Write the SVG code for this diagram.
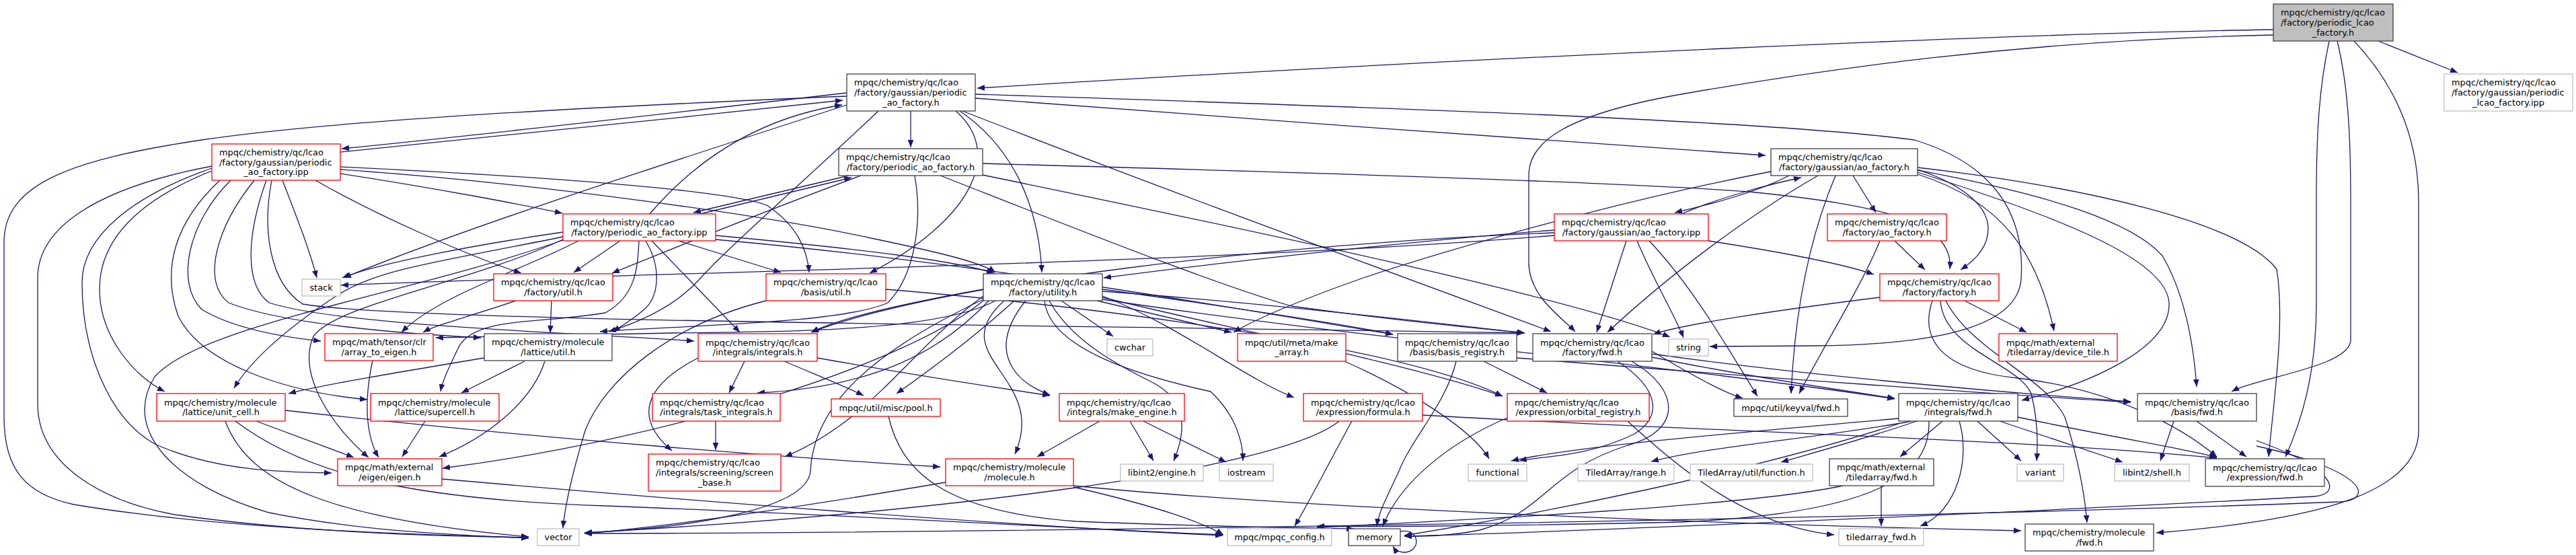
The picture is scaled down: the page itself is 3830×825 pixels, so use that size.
<svg xmlns="http://www.w3.org/2000/svg" width="3830" height="825" viewBox="0 0 3830 825">
<style>
rect{stroke-width:1.3}
.r rect{fill:#fff;stroke:#ff0000}
.b rect{fill:#fff;stroke:#404040}
.g rect{fill:#fff;stroke:#bfbfbf}
.root rect{fill:#bfbfbf;stroke:#404040}
text{font-family:"DejaVu Sans","Liberation Sans",sans-serif;font-size:12.9px;fill:#000}
.c{text-anchor:middle}
#edges path{fill:none;stroke:#191970;stroke-width:1.3;marker-end:url(#a)}
</style>
<defs>
<marker id="a" viewBox="0 0 10 8" refX="10" refY="4" markerWidth="11" markerHeight="8.8" markerUnits="userSpaceOnUse" orient="auto"><path d="M0,0L10,4L0,8z" fill="#191970"/></marker>
</defs>
<rect width="3830" height="825" fill="#fff"/>
<g id="edges">
<path d="M3380,44 C3000,50 2200,85 1453,131"/>
<path d="M3380,52 C3000,60 2700,105 2500,140 C2330,170 2273,210 2273,260 L2273,390 C2273,440 2320,470 2342,493"/>
<path d="M3463,61 C3448,130 3444,200 3444,290 L3444,450 C3444,560 3420,630 3398,679"/>
<path d="M3475,61 C3492,130 3495,210 3495,300 L3495,505 C3495,545 3360,560 3318,582"/>
<path d="M3500,61 C3565,130 3596,210 3596,300 L3596,640 C3596,740 3420,775 3206,792"/>
<path d="M3536,61 L3654,108"/>
<path d="M1354,165 L1354,219"/>
<path d="M1450,146 C1750,168 2300,210 2625,231"/>
<path d="M1450,140 C2000,158 2620,178 2846,208 C2985,250 3010,340 3005,415 C3000,480 2900,512 2700,514 C2620,515 2570,515 2542,515"/>
<path d="M1259,138 C1000,168 720,200 508,221"/>
<path d="M506,226 C720,205 1000,176 1253,149"/>
<path d="M1259,143 C900,158 500,178 300,208 C100,238 6,275 6,360 L6,620 C6,700 40,735 110,750 C320,785 600,795 786,799"/>
<path d="M1259,156 C1000,240 700,335 511,413"/>
<path d="M1306,165 C1200,265 1080,370 1040,415 C1000,460 940,482 905,493"/>
<path d="M1421,165 C1495,230 1440,330 1293,406"/>
<path d="M1427,165 C1515,225 1545,320 1549,405"/>
<path d="M1431,165 C1700,270 2000,380 2306,493"/>
<path d="M1262,261 L1031,316"/>
<path d="M1041,318 L1266,264"/>
<path d="M1280,261 C1120,320 1000,370 910,406"/>
<path d="M1360,261 C1372,330 1360,410 1320,450 C1250,482 1000,484 892,493"/>
<path d="M1461,243 C1900,255 2400,270 2600,285 C2800,305 2905,330 2899,400"/>
<path d="M1461,260 C1700,310 2300,430 2483,501"/>
<path d="M1398,261 C1600,340 1800,420 1920,455 C2100,480 2200,488 2267,495"/>
<path d="M506,258 C650,280 780,305 836,317"/>
<path d="M506,248 C800,262 1080,282 1140,305 C1185,335 1200,370 1203,405"/>
<path d="M506,252 C800,272 1150,322 1300,355 C1400,376 1458,390 1480,405"/>
<path d="M469,268 C560,320 700,382 775,406"/>
<path d="M420,268 C440,320 460,370 471,413"/>
<path d="M315,247 C140,280 56,340 56,413 L56,600 C56,690 150,745 260,765 C450,792 650,797 786,799"/>
<path d="M315,250 C200,290 122,350 122,420 C122,520 160,620 230,660 C320,700 420,702 493,703"/>
<path d="M315,254 C200,300 148,360 148,430 C148,500 200,560 245,582"/>
<path d="M327,268 C260,330 240,400 265,470 C300,540 420,582 546,594"/>
<path d="M343,268 C280,330 260,420 300,460 C350,490 430,502 477,507"/>
<path d="M378,268 C320,340 300,420 340,450 C420,482 600,496 715,502"/>
<path d="M396,268 C370,340 360,420 400,450 C500,482 800,492 1032,507"/>
<path d="M404,268 C390,340 400,420 450,452 C600,478 1500,482 2266,495"/>
<path d="M966,318 C1050,220 1150,172 1252,156"/>
<path d="M837,345 C700,365 560,392 509,413"/>
<path d="M922,358 L853,405"/>
<path d="M1009,358 L1161,405"/>
<path d="M950,358 C948,400 945,440 900,465 C800,482 700,470 680,520 C665,552 658,566 655,582"/>
<path d="M960,358 C985,400 978,440 960,458 C940,476 922,486 911,493"/>
<path d="M969,358 L1100,494"/>
<path d="M860,358 C780,400 650,440 597,494"/>
<path d="M837,352 C650,390 560,400 500,440 C420,492 370,540 348,577"/>
<path d="M837,356 C700,420 500,452 466,500 C440,560 500,640 548,680"/>
<path d="M837,357 C600,440 300,482 230,560 C180,640 260,722 400,762 C550,792 700,796 786,800"/>
<path d="M1064,350 C1300,372 1420,388 1478,406"/>
<path d="M1064,356 C1500,395 1900,470 2071,497"/>
<path d="M2500,318 C2560,292 2640,272 2678,264"/>
<path d="M2660,261 C2620,282 2560,300 2490,316"/>
<path d="M2311,342 C2100,358 1800,392 1641,413"/>
<path d="M2311,346 C1900,362 1400,420 1206,494"/>
<path d="M2311,350 C1800,392 1000,404 507,424"/>
<path d="M2418,358 L2374,494"/>
<path d="M2434,358 C2460,420 2490,468 2503,502"/>
<path d="M2452,358 C2520,430 2570,520 2613,589"/>
<path d="M2540,358 C2650,375 2740,392 2786,408"/>
<path d="M2755,261 L2789,316"/>
<path d="M2851,252 C2905,270 2956,300 2956,340 C2956,370 2932,390 2915,401"/>
<path d="M2633,255 C2400,300 2150,372 2030,412 C1950,440 1870,472 1834,494"/>
<path d="M2703,261 C2600,320 2480,410 2390,494"/>
<path d="M2729,261 C2700,330 2670,430 2663,585"/>
<path d="M2851,249 C3100,278 3330,330 3385,400 C3398,480 3380,600 3373,679"/>
<path d="M2851,253 C3050,290 3170,330 3215,380 C3250,440 3262,520 3266,575"/>
<path d="M2851,256 C3050,320 3220,382 3225,450 C3228,520 3100,572 3006,595"/>
<path d="M2851,259 C2980,300 3030,380 3054,492"/>
<path d="M2817,358 L2862,401"/>
<path d="M2795,358 C2770,420 2720,500 2675,585"/>
<path d="M2795,442 C2650,460 2500,482 2458,497"/>
<path d="M2921,447 L3013,494"/>
<path d="M2885,447 C2890,520 3000,540 3020,585 C3030,625 3030,660 3028,685"/>
<path d="M2893,447 C2930,520 3040,560 3070,620 C3090,680 3100,740 3103,777"/>
<path d="M2873,447 C2855,500 2880,550 3000,562 C3150,580 3250,640 3296,679"/>
<path d="M2456,522 C2520,560 2560,582 2591,592"/>
<path d="M2456,526 C2700,560 3000,585 3168,597"/>
<path d="M2456,531 C2600,560 2750,582 2817,592"/>
<path d="M2405,537 C2470,580 2470,620 2430,645 C2360,680 2290,678 2259,685"/>
<path d="M2426,537 C2500,580 2500,640 2420,662 C2300,700 2300,760 2200,788 C2150,798 2110,797 2088,797"/>
<path d="M2206,537 L2300,584"/>
<path d="M2165,537 C2150,600 2100,650 2080,700 C2062,740 2050,760 2047,782"/>
<path d="M2255,532 C2600,560 3000,588 3168,598"/>
<path d="M2241,621 C2150,660 2080,720 2056,782"/>
<path d="M2420,626 C2500,700 2600,782 2727,795"/>
<path d="M2010,626 C1980,680 1950,740 1925,782"/>
<path d="M2115,617 C2500,640 3000,652 3296,681"/>
<path d="M1991,626 C1900,700 1400,762 869,792"/>
<path d="M1578,447 L1655,500"/>
<path d="M1631,447 L1831,494"/>
<path d="M1508,447 C1450,500 1380,552 1333,585"/>
<path d="M1525,447 C1470,515 1500,565 1561,587"/>
<path d="M1493,447 C1400,530 1560,560 1509,675"/>
<path d="M1560,447 C1600,520 1700,560 1720,572 C1770,602 1760,650 1745,685"/>
<path d="M1553,447 C1560,520 1700,560 1800,582 C1840,620 1848,660 1848,685"/>
<path d="M1639,430 C1800,452 2000,482 2071,497"/>
<path d="M1639,433 C1900,452 2150,482 2267,495"/>
<path d="M1480,447 C1400,490 1200,493 1000,495 L648,502"/>
<path d="M1470,447 C1400,522 1300,576 1126,584"/>
<path d="M1639,440 C1750,482 1850,562 1924,591"/>
<path d="M1462,430 C1350,450 1250,472 1206,494"/>
<path d="M1462,440 C1350,522 1300,622 1167,679"/>
<path d="M1462,445 C1300,522 1210,600 1205,700 C1200,762 1000,786 869,792"/>
<path d="M1639,442 C1800,482 2100,542 2234,589"/>
<path d="M1639,445 C2000,500 2500,545 2817,593"/>
<path d="M1462,447 C1350,540 1000,652 658,696"/>
<path d="M1107,537 L1084,584"/>
<path d="M1038,532 C960,572 940,620 999,670"/>
<path d="M1166,537 C1220,560 1260,576 1284,588"/>
<path d="M1215,532 C1350,556 1480,576 1561,588"/>
<path d="M1064,626 L1064,669"/>
<path d="M1321,619 C1340,700 1400,760 1600,775 C1800,783 1950,785 2013,786"/>
<path d="M1635,626 L1542,679"/>
<path d="M1680,626 L1715,685"/>
<path d="M1700,626 L1823,687"/>
<path d="M1406,717 C1200,752 1000,782 869,793"/>
<path d="M1596,722 C2000,762 2700,782 3005,789"/>
<path d="M1596,724 C1700,748 1780,772 1819,795"/>
<path d="M657,712 C1000,742 1500,782 1818,796"/>
<path d="M554,536 C540,600 545,650 563,680"/>
<path d="M720,532 C600,552 480,572 429,585"/>
<path d="M780,537 L686,584"/>
<path d="M810,537 C790,600 720,652 653,679"/>
<path d="M820,447 L818,495"/>
<path d="M767,447 C700,470 650,482 629,494"/>
<path d="M381,626 L526,680"/>
<path d="M335,626 C370,722 500,772 786,798"/>
<path d="M424,610 C800,652 1200,682 1398,694"/>
<path d="M350,626 C450,702 600,742 900,752 C1300,767 1600,786 1818,795"/>
<path d="M632,626 L598,679"/>
<path d="M1139,447 C1000,482 900,562 870,640 C852,700 840,752 837,785"/>
<path d="M1317,430 C1700,462 2100,522 2234,589"/>
<path d="M2850,626 C2780,650 2700,672 2648,687"/>
<path d="M2888,626 L2825,679"/>
<path d="M2913,626 C2930,682 2910,760 2855,782"/>
<path d="M2940,626 L3005,685"/>
<path d="M2973,626 L3156,687"/>
<path d="M2843,626 C2700,652 2550,662 2455,686"/>
<path d="M2823,622 C2600,642 2350,662 2247,685"/>
<path d="M2868,626 C2870,702 2800,762 2500,776 C2200,783 2000,783 1958,782"/>
<path d="M2823,630 C2600,702 2300,762 2088,796"/>
<path d="M3000,620 C3150,652 3250,667 3296,680"/>
<path d="M2797,722 L2797,782"/>
<path d="M2740,722 C2600,752 2200,772 1958,784"/>
<path d="M3232,626 L3212,685"/>
<path d="M3266,626 L3340,679"/>
<path d="M3355,655 C3480,700 3480,735 3440,738 C3000,762 2300,792 2088,797"/>
<path d="M3355,663 C3520,700 3530,742 3480,746 C2800,772 1500,792 869,793"/>
<path d="M1999,537 C2100,582 2190,640 2214,682"/>
<path d="M2082,790 C2112,784 2114,822 2086,821 C2079,820 2074,817 2071,812"/>
</g>
<g id="n_root" class="root"><rect x="3380" y="6" width="178" height="55"/><text x="3391" y="23.3">mpqc/chemistry/qc/lcao</text><text x="3391" y="38">/factory/periodic_lcao</text><text class="c" x="3469" y="52.7">_factory.h</text></g>
<g id="n_plipp" class="g"><rect x="3634" y="110" width="191" height="55"/><text x="3645" y="127.3">mpqc/chemistry/qc/lcao</text><text x="3645" y="142">/factory/gaussian/periodic</text><text class="c" x="3729.5" y="156.7">_lcao_factory.ipp</text></g>
<g id="n_gpaoh" class="b"><rect x="1259" y="110" width="191" height="55"/><text x="1270" y="127.3">mpqc/chemistry/qc/lcao</text><text x="1270" y="142">/factory/gaussian/periodic</text><text class="c" x="1354.5" y="156.7">_ao_factory.h</text></g>
<g id="n_gpipp" class="r"><rect x="315" y="214" width="191" height="54"/><text x="326" y="230.8">mpqc/chemistry/qc/lcao</text><text x="326" y="245.5">/factory/gaussian/periodic</text><text class="c" x="410.5" y="260.2">_ao_factory.ipp</text></g>
<g id="n_paoh" class="b"><rect x="1247" y="221" width="214" height="40"/><text x="1258" y="238.2">mpqc/chemistry/qc/lcao</text><text class="c" x="1354" y="252.9">/factory/periodic_ao_factory.h</text></g>
<g id="n_gaoh" class="b"><rect x="2633" y="221" width="218" height="40"/><text x="2644" y="238.2">mpqc/chemistry/qc/lcao</text><text class="c" x="2742" y="252.9">/factory/gaussian/ao_factory.h</text></g>
<g id="n_pipp" class="r"><rect x="837" y="318" width="227" height="40"/><text x="848" y="335.2">mpqc/chemistry/qc/lcao</text><text class="c" x="950.5" y="349.9">/factory/periodic_ao_factory.ipp</text></g>
<g id="n_gaoipp" class="r"><rect x="2311" y="318" width="229" height="40"/><text x="2322" y="335.2">mpqc/chemistry/qc/lcao</text><text class="c" x="2425.5" y="349.9">/factory/gaussian/ao_factory.ipp</text></g>
<g id="n_aoh" class="r"><rect x="2717" y="318" width="177" height="40"/><text x="2728" y="335.2">mpqc/chemistry/qc/lcao</text><text class="c" x="2805.5" y="349.9">/factory/ao_factory.h</text></g>
<g id="n_stack" class="g"><rect x="449" y="415" width="57" height="25"/><text class="c" x="477.5" y="432">stack</text></g>
<g id="n_futil" class="r"><rect x="734" y="407" width="177" height="40"/><text x="745" y="424.2">mpqc/chemistry/qc/lcao</text><text class="c" x="822.5" y="438.9">/factory/util.h</text></g>
<g id="n_butil" class="r"><rect x="1139" y="407" width="178" height="40"/><text x="1150" y="424.2">mpqc/chemistry/qc/lcao</text><text class="c" x="1228" y="438.9">/basis/util.h</text></g>
<g id="n_utility" class="b"><rect x="1462" y="407" width="177" height="40"/><text x="1473" y="424.2">mpqc/chemistry/qc/lcao</text><text class="c" x="1550.5" y="438.9">/factory/utility.h</text></g>
<g id="n_string" class="g"><rect x="2481" y="504" width="59" height="25"/><text class="c" x="2510.5" y="521">string</text></g>
<g id="n_factory" class="r"><rect x="2795" y="407" width="177" height="40"/><text x="2806" y="424.2">mpqc/chemistry/qc/lcao</text><text class="c" x="2883.5" y="438.9">/factory/factory.h</text></g>
<g id="n_a2e" class="r"><rect x="483" y="496" width="161" height="40"/><text x="494" y="513.2">mpqc/math/tensor/clr</text><text class="c" x="563.5" y="527.9">/array_to_eigen.h</text></g>
<g id="n_lutil" class="b"><rect x="720" y="496" width="190" height="40"/><text x="731" y="513.2">mpqc/chemistry/molecule</text><text class="c" x="815" y="527.9">/lattice/util.h</text></g>
<g id="n_integrals" class="r"><rect x="1038" y="496" width="177" height="41"/><text x="1049" y="513.7">mpqc/chemistry/qc/lcao</text><text class="c" x="1126.5" y="528.4">/integrals/integrals.h</text></g>
<g id="n_cwchar" class="g"><rect x="1646" y="504" width="68" height="25"/><text class="c" x="1680" y="521">cwchar</text></g>
<g id="n_makearray" class="r"><rect x="1840" y="496" width="161" height="41"/><text x="1851" y="513.7">mpqc/util/meta/make</text><text class="c" x="1920.5" y="528.4">_array.h</text></g>
<g id="n_basisreg" class="b"><rect x="2078" y="496" width="177" height="41"/><text x="2089" y="513.7">mpqc/chemistry/qc/lcao</text><text class="c" x="2166.5" y="528.4">/basis/basis_registry.h</text></g>
<g id="n_ffwd" class="b"><rect x="2279" y="496" width="177" height="41"/><text x="2290" y="513.7">mpqc/chemistry/qc/lcao</text><text class="c" x="2367.5" y="528.4">/factory/fwd.h</text></g>
<g id="n_devtile" class="r"><rect x="2972" y="496" width="176" height="41"/><text x="2983" y="513.7">mpqc/math/external</text><text class="c" x="3060" y="528.4">/tiledarray/device_tile.h</text></g>
<g id="n_unitcell" class="r"><rect x="233" y="585" width="191" height="41"/><text x="244" y="602.7">mpqc/chemistry/molecule</text><text class="c" x="328.5" y="617.4">/lattice/unit_cell.h</text></g>
<g id="n_supercell" class="r"><rect x="551" y="585" width="191" height="41"/><text x="562" y="602.7">mpqc/chemistry/molecule</text><text class="c" x="646.5" y="617.4">/lattice/supercell.h</text></g>
<g id="n_taskint" class="r"><rect x="970" y="585" width="190" height="41"/><text x="981" y="602.7">mpqc/chemistry/qc/lcao</text><text class="c" x="1065" y="617.4">/integrals/task_integrals.h</text></g>
<g id="n_pool" class="r"><rect x="1236" y="593" width="162" height="26"/><text class="c" x="1317" y="610.5">mpqc/util/misc/pool.h</text></g>
<g id="n_makeengine" class="r"><rect x="1575" y="585" width="186" height="41"/><text x="1586" y="602.7">mpqc/chemistry/qc/lcao</text><text class="c" x="1668" y="617.4">/integrals/make_engine.h</text></g>
<g id="n_formula" class="r"><rect x="1938" y="585" width="177" height="41"/><text x="1949" y="602.7">mpqc/chemistry/qc/lcao</text><text class="c" x="2026.5" y="617.4">/expression/formula.h</text></g>
<g id="n_orbreg" class="r"><rect x="2241" y="585" width="211" height="41"/><text x="2252" y="602.7">mpqc/chemistry/qc/lcao</text><text class="c" x="2346.5" y="617.4">/expression/orbital_registry.h</text></g>
<g id="n_keyval" class="b"><rect x="2578" y="593" width="169" height="26"/><text class="c" x="2662.5" y="610.5">mpqc/util/keyval/fwd.h</text></g>
<g id="n_ifwd" class="b"><rect x="2823" y="585" width="177" height="41"/><text x="2834" y="602.7">mpqc/chemistry/qc/lcao</text><text class="c" x="2911.5" y="617.4">/integrals/fwd.h</text></g>
<g id="n_bfwd" class="b"><rect x="3178" y="585" width="177" height="41"/><text x="3189" y="602.7">mpqc/chemistry/qc/lcao</text><text class="c" x="3266.5" y="617.4">/basis/fwd.h</text></g>
<g id="n_eigen" class="r"><rect x="502" y="682" width="155" height="40"/><text x="513" y="699.2">mpqc/math/external</text><text class="c" x="579.5" y="713.9">/eigen/eigen.h</text></g>
<g id="n_screen" class="r"><rect x="964" y="675" width="197" height="55"/><text x="975" y="692.3">mpqc/chemistry/qc/lcao</text><text x="975" y="707">/integrals/screening/screen</text><text class="c" x="1062.5" y="721.7">_base.h</text></g>
<g id="n_molecule" class="r"><rect x="1406" y="682" width="190" height="40"/><text x="1417" y="699.2">mpqc/chemistry/molecule</text><text class="c" x="1501" y="713.9">/molecule.h</text></g>
<g id="n_libeng" class="g"><rect x="1666" y="690" width="123" height="25"/><text class="c" x="1727.5" y="707">libint2/engine.h</text></g>
<g id="n_iostream" class="g"><rect x="1813" y="690" width="80" height="25"/><text class="c" x="1853" y="707">iostream</text></g>
<g id="n_functional" class="g"><rect x="2183" y="690" width="87" height="25"/><text class="c" x="2226.5" y="707">functional</text></g>
<g id="n_tarange" class="g"><rect x="2346" y="690" width="143" height="25"/><text class="c" x="2417.5" y="707">TiledArray/range.h</text></g>
<g id="n_tafunc" class="g"><rect x="2513" y="690" width="182" height="25"/><text class="c" x="2604" y="707">TiledArray/util/function.h</text></g>
<g id="n_tafwd" class="b"><rect x="2720" y="682" width="155" height="40"/><text x="2731" y="699.2">mpqc/math/external</text><text class="c" x="2797.5" y="713.9">/tiledarray/fwd.h</text></g>
<g id="n_variant" class="g"><rect x="2999" y="690" width="69" height="25"/><text class="c" x="3033.5" y="707">variant</text></g>
<g id="n_libshell" class="g"><rect x="3144" y="690" width="111" height="25"/><text class="c" x="3199.5" y="707">libint2/shell.h</text></g>
<g id="n_efwd" class="b"><rect x="3279" y="682" width="177" height="41"/><text x="3290" y="699.7">mpqc/chemistry/qc/lcao</text><text class="c" x="3367.5" y="714.4">/expression/fwd.h</text></g>
<g id="n_vector" class="g"><rect x="799" y="786" width="62" height="25"/><text class="c" x="830" y="803">vector</text></g>
<g id="n_config" class="g"><rect x="1825" y="786" width="155" height="25"/><text class="c" x="1902.5" y="803">mpqc/mpqc_config.h</text></g>
<g id="n_memory" class="b"><rect x="2005" y="786" width="77" height="25"/><text class="c" x="2043.5" y="803">memory</text></g>
<g id="n_tafwdh" class="g"><rect x="2734" y="786" width="126" height="25"/><text class="c" x="2797" y="803">tiledarray_fwd.h</text></g>
<g id="n_mfwd" class="b"><rect x="3011" y="779" width="191" height="40"/><text x="3022" y="796.2">mpqc/chemistry/molecule</text><text class="c" x="3106.5" y="810.9">/fwd.h</text></g>
</svg>
